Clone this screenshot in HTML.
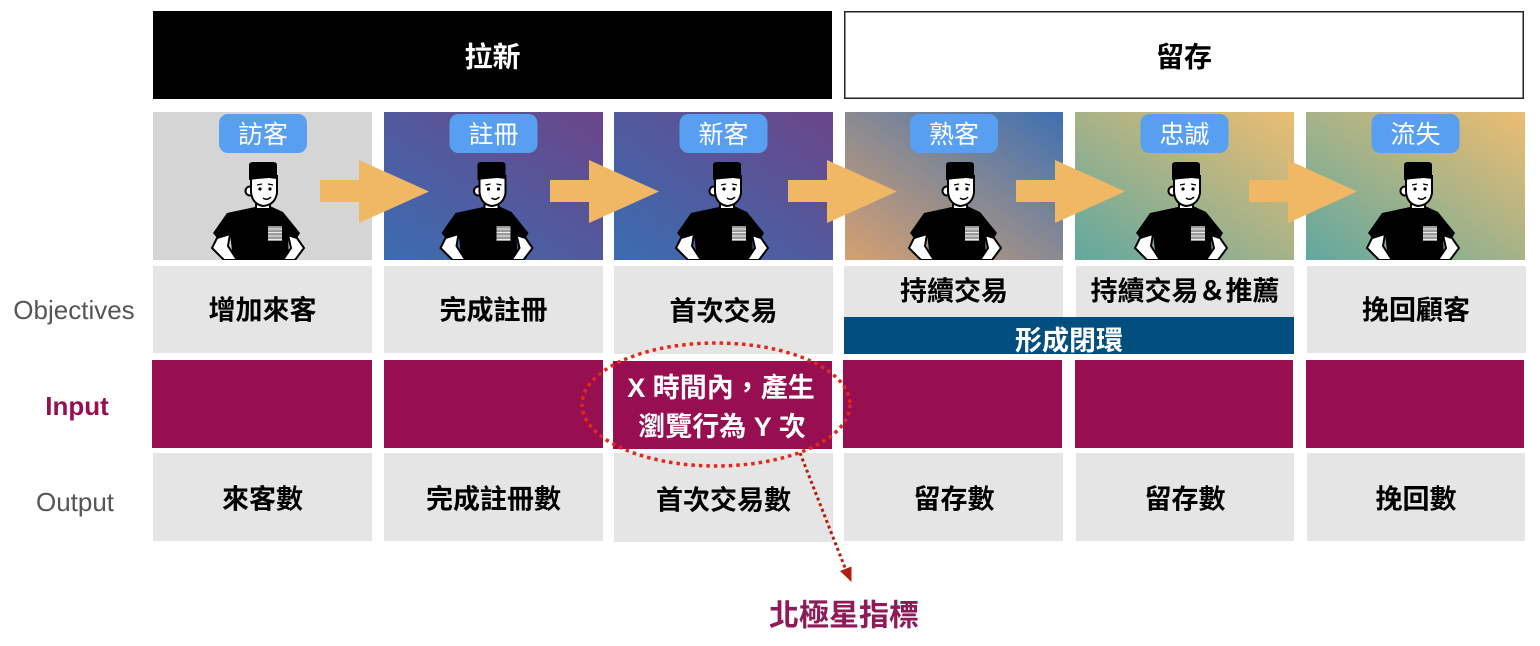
<!DOCTYPE html>
<html><head><meta charset="utf-8">
<style>
html,body{margin:0;padding:0;background:#fff;width:1540px;height:646px;overflow:hidden;}
svg{display:block;}
text{font-family:"Liberation Sans","Noto Sans CJK TC",sans-serif;}
</style></head>
<body>
<svg width="1540" height="646" viewBox="0 0 1540 646" xmlns="http://www.w3.org/2000/svg">
<defs>
  <linearGradient id="gBlue" x1="0" y1="1" x2="1" y2="0">
    <stop offset="0" stop-color="#3b6db1"/><stop offset="1" stop-color="#6b4589"/>
  </linearGradient>
  <linearGradient id="gWarm" x1="0" y1="1" x2="1" y2="0">
    <stop offset="0" stop-color="#d6a070"/><stop offset="0.5" stop-color="#8a8a92"/><stop offset="1" stop-color="#3f70b2"/>
  </linearGradient>
  <linearGradient id="gTeal" x1="0" y1="1" x2="1" y2="0">
    <stop offset="0" stop-color="#60a89f"/><stop offset="1" stop-color="#ecbd71"/>
  </linearGradient>
  <g id="person">
    <!-- shirt -->
    <path d="M -8,45 Q 0,51 7,44 L 20,50 L 37,71 L 34,76 L 25,73 L 26,98 L -30,98 L -33,71 L -46,76 L -50,71 L -36,51 Z" fill="#000"/>
    <!-- arms -->
    <path d="M -46,76 L -33,72 L -35,84 L -26,98 L -39,98 L -51,86 Z" fill="#fff" stroke="#000" stroke-width="2"/>
    <path d="M 34,76 L 25,73 L 28,86 L 20,98 L 32,98 L 41,86 Z" fill="#fff" stroke="#000" stroke-width="2"/>
    <!-- neck -->
    <rect x="-7" y="38" width="14" height="9" fill="#fff" stroke="#000" stroke-width="2"/>
    <!-- ear -->
    <circle cx="-13" cy="29" r="4.5" fill="#fff" stroke="#000" stroke-width="2"/>
    <!-- face -->
    <path d="M -12,14 L -12,30 Q -11,42 0,44 Q 12,43 14,31 L 14,14 Z" fill="#fff" stroke="#000" stroke-width="2"/>
    <!-- hat -->
    <path d="M -14,18 L -14,3 Q -14,0 -10,0 L 10,0 Q 14,0 14,3 L 14,17 L 6,16 L -6,17 Z" fill="#000"/>
    <!-- features -->
    <circle cx="-3" cy="27" r="1.6" fill="#000"/>
    <circle cx="7" cy="27" r="1.6" fill="#000"/>
    <path d="M -6,23 L -1,22 M 5,22 L 10,23" stroke="#000" stroke-width="1.3" fill="none"/>
    <path d="M 0,36 Q 4,39 8,35" stroke="#000" stroke-width="1.5" fill="none"/>
    <!-- pocket -->
    <rect x="5" y="64" width="14" height="15" fill="#9a9a9a"/>
    <path d="M 5,67 L 19,67 M 5,70.5 L 19,70.5 M 5,74 L 19,74 M 5,77.5 L 19,77.5" stroke="#eee" stroke-width="1"/>
  </g>
  <clipPath id="c1"><rect x="153" y="112" width="219" height="148"/></clipPath>
  <clipPath id="c2"><rect x="384" y="112" width="219" height="148"/></clipPath>
  <clipPath id="c3"><rect x="614" y="112" width="219" height="148"/></clipPath>
  <clipPath id="c4"><rect x="845" y="112" width="218" height="148"/></clipPath>
  <clipPath id="c5"><rect x="1075" y="112" width="219" height="148"/></clipPath>
  <clipPath id="c6"><rect x="1306" y="112" width="219" height="148"/></clipPath>
</defs>

<!-- Header boxes -->
<rect x="153" y="11" width="679" height="88" fill="#000"/>
<text x="492.5" y="66.5" font-size="28" font-weight="bold" fill="#fff" text-anchor="middle">拉新</text>
<rect x="844.75" y="11.75" width="678.5" height="86.5" fill="#fff" stroke="#222" stroke-width="1.5"/>
<text x="1184" y="66.5" font-size="28" font-weight="bold" fill="#000" text-anchor="middle">留存</text>

<!-- Tiles -->
<rect x="153" y="112" width="219" height="148" fill="#d5d5d5"/>
<rect x="384" y="112" width="219" height="148" fill="url(#gBlue)"/>
<rect x="614" y="112" width="219" height="148" fill="url(#gBlue)"/>
<rect x="845" y="112" width="218" height="148" fill="url(#gWarm)"/>
<rect x="1075" y="112" width="219" height="148" fill="url(#gTeal)"/>
<rect x="1306" y="112" width="219" height="148" fill="url(#gTeal)"/>

<!-- persons -->
<g clip-path="url(#c1)"><use href="#person" transform="translate(263,162)"/></g>
<g clip-path="url(#c2)"><use href="#person" transform="translate(491.5,162)"/></g>
<g clip-path="url(#c3)"><use href="#person" transform="translate(727,162)"/></g>
<g clip-path="url(#c4)"><use href="#person" transform="translate(960,162)"/></g>
<g clip-path="url(#c5)"><use href="#person" transform="translate(1186,162)"/></g>
<g clip-path="url(#c6)"><use href="#person" transform="translate(1418,162)"/></g>

<!-- labels -->
<g fill="#589ef1">
  <rect x="219" y="114" width="88" height="39" rx="9"/>
  <rect x="449.5" y="114" width="88" height="39" rx="9"/>
  <rect x="679.5" y="114" width="88" height="39" rx="9"/>
  <rect x="910" y="114" width="88" height="39" rx="9"/>
  <rect x="1140.5" y="114" width="88" height="39" rx="9"/>
  <rect x="1371.5" y="114" width="88" height="39" rx="9"/>
</g>
<g font-size="25" fill="#fff" text-anchor="middle">
  <text x="263" y="143">訪客</text>
  <text x="493.5" y="143">註冊</text>
  <text x="723.5" y="143">新客</text>
  <text x="954" y="143">熟客</text>
  <text x="1184.5" y="143">忠誠</text>
  <text x="1415.5" y="143">流失</text>
</g>

<!-- orange arrows -->
<g fill="#f0b865">
  <path d="M320,180 L359,180 L359,160 L429,191.5 L359,223 L359,202 L320,202 Z"/>
  <path d="M550,180 L589,180 L589,160 L659,191.5 L589,223 L589,202 L550,202 Z"/>
  <path d="M788,180 L827,180 L827,160 L897,191.5 L827,223 L827,202 L788,202 Z"/>
  <path d="M1016,180 L1055,180 L1055,160 L1125,191.5 L1055,223 L1055,202 L1016,202 Z"/>
  <path d="M1249,180 L1288,180 L1288,160 L1357,191.5 L1288,223 L1288,202 L1249,202 Z"/>
</g>

<!-- Objectives row -->
<g fill="#e5e5e5">
  <rect x="153" y="266" width="219" height="87"/>
  <rect x="384" y="266" width="219" height="87"/>
  <rect x="614" y="266" width="219" height="88"/>
  <rect x="844" y="266" width="219" height="51"/>
  <rect x="1076" y="266" width="218" height="51"/>
  <rect x="1307" y="266" width="219" height="87"/>
</g>
<rect x="844" y="317" width="450" height="37" fill="#024e7e"/>
<g font-size="27" font-weight="bold" fill="#000" text-anchor="middle">
  <text x="262.5" y="319.5">增加來客</text>
  <text x="493.5" y="319.5">完成註冊</text>
  <text x="723.5" y="320.5">首次交易</text>
  <text x="954" y="300.5">持續交易</text>
  <text x="1185" y="300.5">持續交易＆推薦</text>
  <text x="1416" y="319.5">挽回顧客</text>
</g>
<text x="1069" y="350" font-size="27" font-weight="bold" fill="#fff" text-anchor="middle">形成閉環</text>

<!-- Input row -->
<g fill="#970f51">
  <rect x="152" y="360" width="220" height="88"/>
  <rect x="384" y="360" width="219" height="88"/>
  <rect x="613" y="361" width="219" height="88"/>
  <rect x="843" y="360" width="219" height="88"/>
  <rect x="1075" y="360" width="218" height="88"/>
  <rect x="1306" y="360" width="218" height="88"/>
</g>
<g font-size="27" font-weight="bold" fill="#fff" text-anchor="middle">
  <text x="721" y="397">X 時間內，產生</text>
  <text x="722" y="436">瀏覽行為 Y 次</text>
</g>

<!-- Output row -->
<g fill="#e5e5e5">
  <rect x="153" y="453" width="219" height="88"/>
  <rect x="384" y="453" width="219" height="88"/>
  <rect x="614" y="453" width="219" height="89"/>
  <rect x="844" y="453" width="219" height="88"/>
  <rect x="1076" y="453" width="218" height="88"/>
  <rect x="1307" y="453" width="218" height="88"/>
</g>
<g font-size="27" font-weight="bold" fill="#000" text-anchor="middle">
  <text x="262.5" y="508.5">來客數</text>
  <text x="493.5" y="508.5">完成註冊數</text>
  <text x="723.5" y="509.5">首次交易數</text>
  <text x="954" y="508.5">留存數</text>
  <text x="1185" y="508.5">留存數</text>
  <text x="1416" y="508.5">挽回數</text>
</g>

<!-- Left labels -->
<text x="74" y="319" font-size="26" fill="#555" text-anchor="middle">Objectives</text>
<text x="77" y="415" font-size="26" font-weight="bold" fill="#970f52" text-anchor="middle">Input</text>
<text x="75" y="511" font-size="26" fill="#555" text-anchor="middle">Output</text>

<!-- dotted ellipse -->
<ellipse cx="716" cy="404.5" rx="134" ry="61.5" fill="none" stroke="#e2281b" stroke-width="3.5" stroke-dasharray="3.5 4"/>
<!-- dotted arrow -->
<line x1="800" y1="453" x2="845.5" y2="569" stroke="#b01f0c" stroke-width="3" stroke-dasharray="3 3"/>
<polygon points="851.5,582 851.5,566.5 840,571" fill="#b01f0c"/>

<!-- North star -->
<text x="844" y="625.5" font-size="30" font-weight="bold" fill="#8e1a58" text-anchor="middle">北極星指標</text>
</svg>
</body></html>
